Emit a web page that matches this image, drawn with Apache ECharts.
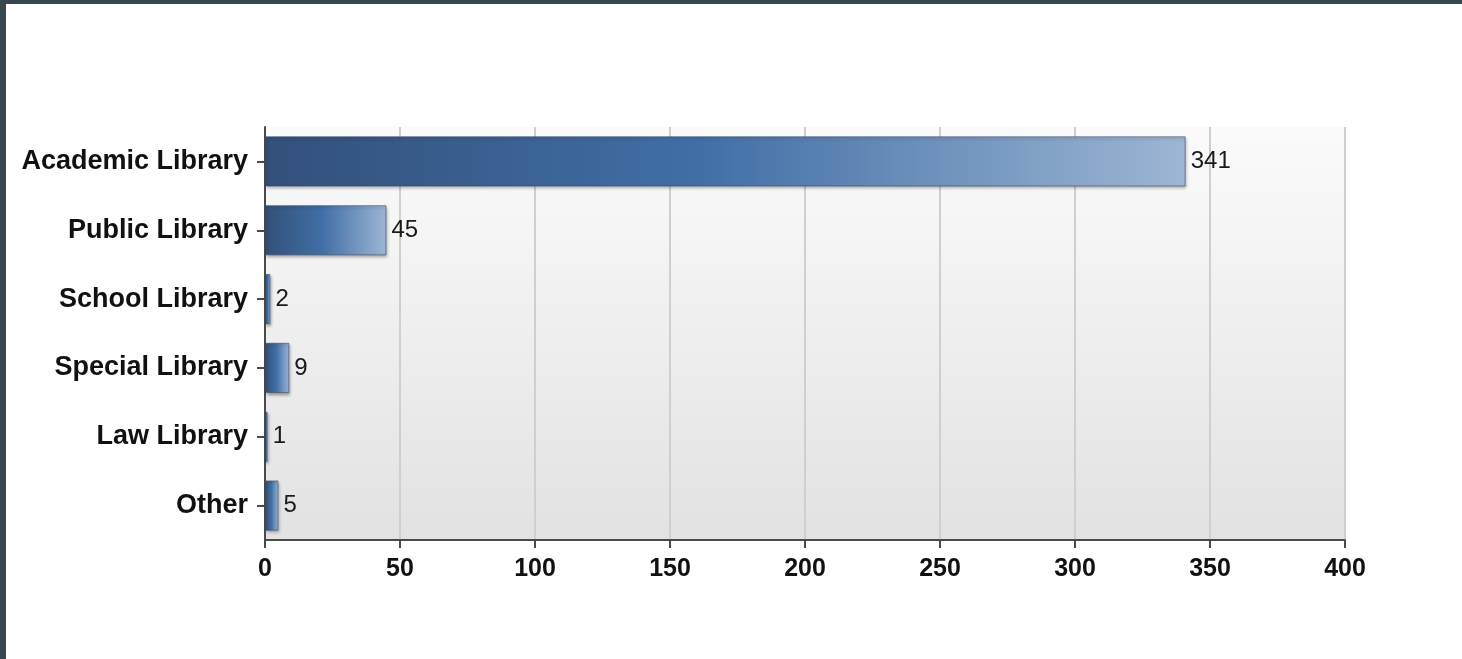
<!DOCTYPE html>
<html>
<head>
<meta charset="utf-8">
<script src="https://cdn.jsdelivr.net/npm/echarts@6/dist/echarts.min.js"></script>
<style>
  html, body { margin: 0; padding: 0; background: #36474f; width: 1462px; height: 659px; overflow: hidden; }
  #chart { position: absolute; left: 6px; top: 4px; width: 1456px; height: 655px; background: #ffffff; }
</style>
</head>
<body>
<div id="chart"></div>
<script>
const categories = ['Academic Library', 'Public Library', 'School Library', 'Special Library', 'Law Library', 'Other'];
const counts = [341, 45, 2, 9, 1, 5];
const xTicks = [0, 50, 100, 150, 200, 250, 300, 350, 400];

const chart = echarts.init(document.getElementById('chart'), null, { renderer: 'canvas' });
const font = '"Liberation Sans", Arial, sans-serif';

chart.setOption({
  animation: false,
  grid: {
    left: 259, right: 117, top: 123, bottom: 119,
    show: true,
    borderWidth: 0,
    backgroundColor: new echarts.graphic.LinearGradient(0, 0, 0, 1, [
      { offset: 0, color: '#fbfbfb' },
      { offset: 1, color: '#e2e2e2' }
    ])
  },
  xAxis: {
    type: 'value',
    min: xTicks[0],
    max: xTicks[xTicks.length - 1],
    interval: xTicks[1] - xTicks[0],
    axisLine: { show: true, lineStyle: { color: '#4a4a4a', width: 2 } },
    axisTick: { show: true, length: 8, lineStyle: { color: '#4a4a4a', width: 2 } },
    axisLabel: { margin: 17, color: '#111', fontFamily: font, fontWeight: 'bold', fontSize: 25 },
    splitLine: { show: true, lineStyle: { color: '#cfcfcf', width: 2 } }
  },
  yAxis: {
    type: 'category',
    data: categories,
    inverse: true,
    axisLine: { show: true, lineStyle: { color: '#4a4a4a', width: 2 } },
    axisTick: { show: true, alignWithLabel: true, length: 8, lineStyle: { color: '#4a4a4a', width: 2 } },
    axisLabel: { margin: 17, color: '#111', fontFamily: font, fontWeight: 'bold', fontSize: 27 },
    splitLine: { show: false }
  },
  series: [{
    type: 'bar',
    data: counts,
    barCategoryGap: '27%',
    itemStyle: {
      color: new echarts.graphic.LinearGradient(0, 0, 1, 0, [
        { offset: 0, color: '#33507a' },
        { offset: 0.47, color: '#406fa6' },
        { offset: 1, color: '#9db6d3' }
      ]),
      borderColor: 'rgba(50,70,100,0.55)',
      borderWidth: 1,
      shadowColor: 'rgba(0,0,0,0.35)',
      shadowBlur: 3,
      shadowOffsetX: 1,
      shadowOffsetY: 2
    },
    label: {
      show: true,
      position: 'right',
      distance: 5,
      color: '#1a1a1a',
      fontFamily: font,
      fontSize: 24
    }
  }]
});
</script>
</body>
</html>
